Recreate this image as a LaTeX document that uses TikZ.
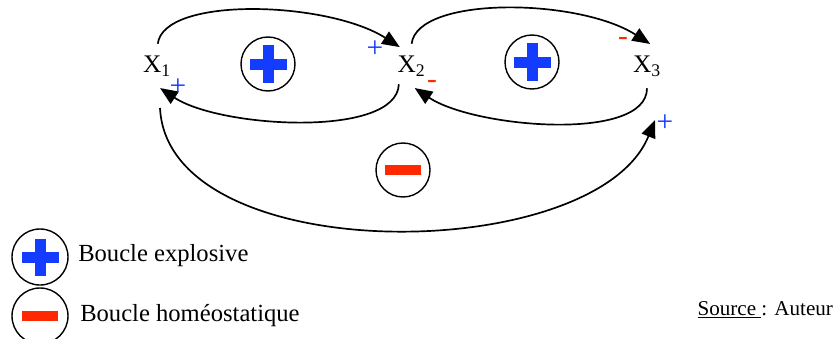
\documentclass[tikz,border=0pt]{standalone}
\usepackage{fontspec}
\setmainfont{Liberation Serif}
\usepackage{xcolor}
\usetikzlibrary{arrows.meta}

\definecolor{plusblue}{RGB}{20,60,255}
\definecolor{minusred}{RGB}{255,40,0}

\begin{document}
\begin{tikzpicture}[
    var/.style={circle, minimum size=1.1cm, inner sep=0pt, font=\fontsize{18}{20}\selectfont},
    loopsign/.style={circle, draw, line width=1pt, minimum size=1.35cm, inner sep=0pt},
    plusloop/.style={loopsign, path picture={
        \fill[plusblue] ([shift={(-0.4625,-0.1375)}]path picture bounding box.center) rectangle ++(0.925,0.275);
        \fill[plusblue] ([shift={(-0.1375,-0.4625)}]path picture bounding box.center) rectangle ++(0.275,0.925);}},
    minusloop/.style={loopsign, path picture={
        \fill[minusred] ([shift={(-0.45,-0.125)}]path picture bounding box.center) rectangle ++(0.9,0.25);}},
    legendtxt/.style={anchor=west, inner sep=0pt, font=\fontsize{17.5}{20}\selectfont},
    possign/.style={inner sep=0pt, text=plusblue, font=\fontsize{21}{21}\selectfont},
    negsign/.style={inner sep=0pt, text=minusred, font=\fontsize{21}{21}\selectfont},
    arrow/.style={-{Triangle[length=4.4mm, width=3.6mm]}, line width=1.2pt}
]
\useasboundingbox (0,0) rectangle (20.85,8.45);

% variables
\node[var] (x1) at (3.925,6.8) {X\textsubscript{1}};
\node[var] (x2) at (10.29,6.8) {X\textsubscript{2}};
\node[var] (x3) at (16.175,6.8) {X\textsubscript{3}};

% loop types
\node[plusloop] (loopA) at (6.7,6.85) {};
\node[plusloop] (loopB) at (13.3,6.9) {};
\node[minusloop] (loopC) at (10.075,4.2) {};

% links
\draw[arrow] (x1.88) .. controls +(0.15,1.2) and +(-1.8,1.15) .. (x2.122);
\draw[arrow] (x2.235) .. controls +(-0.05,-1.35) and +(1.5,-1.0) .. (x1.278);
\draw[arrow] (x2.90) .. controls +(0.15,1.2) and +(-1.8,1.15) .. (x3.82);
\draw[arrow] (x3.270) .. controls +(0,-1.35) and +(1.5,-1.0) .. (x2.278);
\draw[arrow] ([shift={(0.075,-1.05)}]x1.center) .. controls +(0.2,-4.05) and +(-1.475,-3.65) .. ([shift={(0.2,-1.35)}]x3.center);

% signs
\node[possign] (s12) at (9.375,7.225) {+};
\node[possign] (s21) at (4.45,6.27) {+};
\node[negsign] (s32) at (10.8,6.33) {-};
\node[negsign] (s23) at (15.575,7.42) {-};
\node[possign] (s13) at (16.625,5.375) {+};

% legend
\node[plusloop, minimum size=1.4cm] (legplus) at (1.0,2.025) {};
\node[minusloop, minimum size=1.4cm] (legminus) at (1.0,0.55) {};
\node[legendtxt] (legexp) at (1.95,2.05) {Boucle explosive};
\node[legendtxt] (leghom) at (2.0,0.55) {Boucle homéostatique};

\node[anchor=base east, inner sep=0pt, font=\fontsize{15}{17}\selectfont] (src) at (20.83,0.575) {\underline{Source\ }: Auteur};
\end{tikzpicture}
\end{document}
